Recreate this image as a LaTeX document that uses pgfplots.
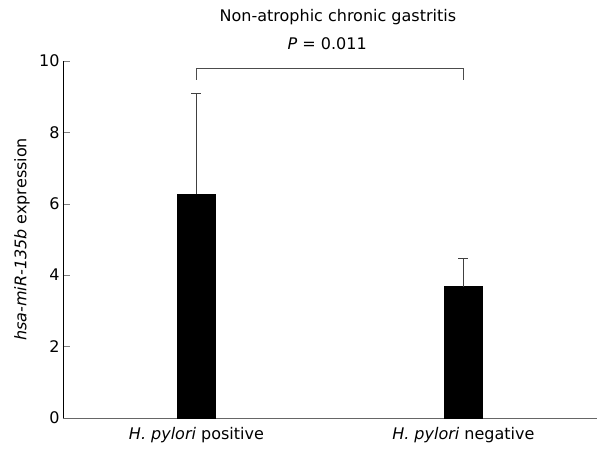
\documentclass[border=0pt]{standalone}
\usepackage{pgfplots}
\pgfplotsset{compat=1.18}
\usepackage{fontspec}
\setmainfont{DejaVu Sans}

\begin{document}
\begin{tikzpicture}[x=1pt,y=1pt]
\begin{axis}[
    at={(63pt,32pt)}, anchor=south west,
    scale only axis,
    width=534pt, height=357pt,
    ybar, bar width=38pt,
    xmin=-0.5, xmax=1.5,
    ymin=0, ymax=10,
    ytick={0,2,...,10},
    xtick={0,1},
    xticklabels={{\itshape H. pylori} positive, {\itshape H. pylori} negative},
    major x tick style={draw=none},
    tick align=inside,
    major tick length=7pt,
    y tick style={gray},
    axis x line*=bottom, axis y line*=left,
    x axis line style={gray!80!black, -},
    y axis line style={black, -},
    ylabel={{\itshape hsa-miR-135b} expression},
    ylabel style={at={(axis description cs:-0.077,0.5)}, anchor=center},
    xticklabel style={yshift=-6pt},
    tick label style={font=\fontsize{16}{19}\selectfont},
    label style={font=\fontsize{16}{19}\selectfont},
    /pgf/number format/assume math mode=true,
    clip=false,
]
\addplot[fill=black, draw=black,
    error bars/.cd, y dir=plus, y explicit,
    error mark=|,
    error bar style={black!75, line width=0.9pt},
    error mark options={black!75, line width=0.9pt, mark size=5pt}]
coordinates {(0,6.26) +- (0,2.84) (1,3.68) +- (0,0.78)};

\draw[black!70, line width=0.8pt] (axis cs:0,9.47) -- (axis cs:0,9.8) -- (axis cs:1,9.8) -- (axis cs:1,9.47);
\node[font=\fontsize{16}{19}\selectfont] at (axis cs:0.49,10.48) {\itshape P\upshape{} = 0.011};
\node[font=\fontsize{16}{19}\selectfont] at (axis cs:0.53,11.24) {Non-atrophic chronic gastritis};
\end{axis}
\path (0,0) rectangle (597pt,450pt);
\end{tikzpicture}
\end{document}
